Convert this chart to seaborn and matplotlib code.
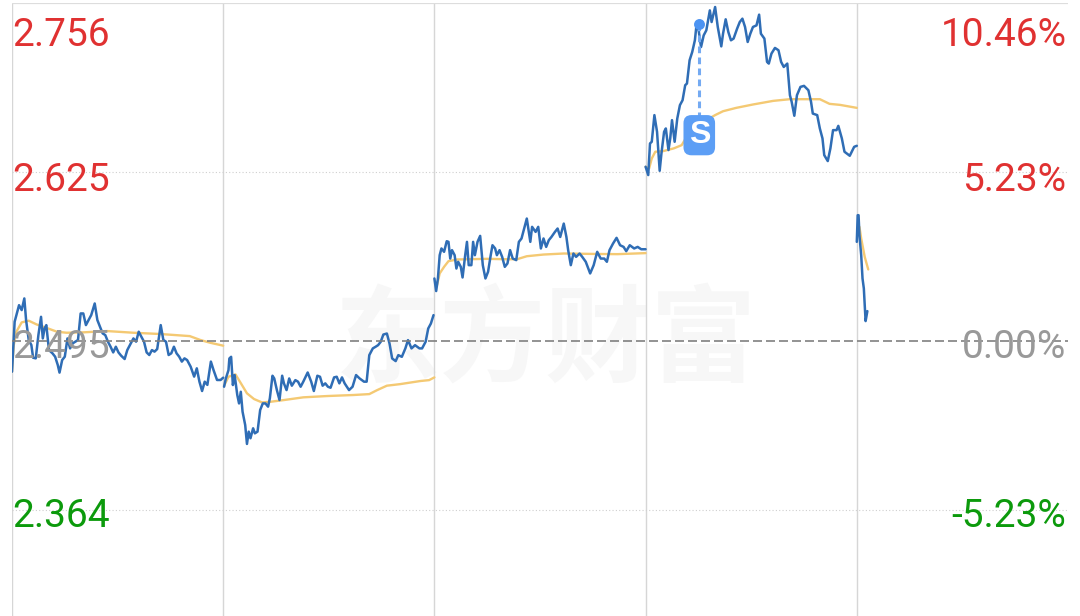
import numpy as np
import pandas as pd
import matplotlib
matplotlib.use("Agg")
import matplotlib.pyplot as plt
import seaborn as sns

BLUE = "#2f6db5"
GOLD = "#f4c973"

minute_day1 = [0, 3, 5, 8, 11, 14, 16, 19, 22, 24, 27, 30, 33, 35, 37, 39, 42, 46, 49, 52, 54, 57, 60, 63, 66, 69,
               72, 75, 78, 81, 84, 87, 90, 94, 97, 100, 103, 106, 109, 112, 115, 118, 121, 124, 128, 131, 135, 138,
               141, 144, 147, 150, 153, 156, 159, 162, 165, 169, 172, 175, 178, 181, 184, 187, 190, 193, 196, 199,
               203, 207, 210, 213, 216, 219, 222, 226, 229, 233, 237, 240]
price_day1 = [2.4709, 2.5095, 2.5146, 2.5223, 2.5185, 2.5275, 2.5108, 2.4954, 2.4915, 2.4817, 2.4812, 2.4992,
              2.5133, 2.4966, 2.5043, 2.5069, 2.4876, 2.4851, 2.4825, 2.4761, 2.4702, 2.4799, 2.4825, 2.4966,
              2.4889, 2.4928, 2.4941, 2.4954, 2.5159, 2.5159, 2.5069, 2.5108, 2.5146, 2.5236, 2.5108, 2.5056,
              2.5005, 2.4992, 2.4941, 2.4902, 2.4858, 2.4902, 2.4858, 2.4833, 2.4807, 2.4876, 2.4928, 2.4966,
              2.4941, 2.5018, 2.4979, 2.4941, 2.4858, 2.4838, 2.4876, 2.4864, 2.4884, 2.5069, 2.4954, 2.4941,
              2.4838, 2.4851, 2.4902, 2.4851, 2.4825, 2.4787, 2.4812, 2.4799, 2.4748, 2.4671, 2.4735, 2.4632,
              2.4560, 2.4632, 2.4607, 2.4787, 2.4722, 2.4645, 2.4645, 2.4663]
minute_day2 = [1, 3, 6, 7, 9, 11, 13, 16, 18, 20, 22, 25, 27, 29, 31, 34, 36, 39, 42, 45, 48, 51, 53, 56, 58, 61,
               64, 67, 69, 72, 75, 78, 82, 85, 88, 91, 96, 100, 103, 107, 110, 113, 116, 119, 122, 126, 129, 132,
               135, 138, 143, 147, 151, 155, 160, 163, 166, 170, 173, 176, 179, 182, 186, 189, 192, 196, 199, 203,
               207, 210, 214, 218, 223, 226, 230, 233, 236, 239]
price_day2 = [2.4593, 2.4657, 2.4721, 2.4811, 2.4824, 2.4606, 2.4683, 2.4529, 2.4464, 2.4554, 2.4400, 2.4297,
              2.4151, 2.4246, 2.4195, 2.4272, 2.4233, 2.4246, 2.4413, 2.4464, 2.4464, 2.4439, 2.4503, 2.4678,
              2.4657, 2.4567, 2.4490, 2.4678, 2.4619, 2.4567, 2.4657, 2.4601, 2.4644, 2.4632, 2.4593, 2.4632,
              2.4703, 2.4632, 2.4560, 2.4678, 2.4670, 2.4601, 2.4619, 2.4593, 2.4585, 2.4665, 2.4670, 2.4619,
              2.4665, 2.4619, 2.4567, 2.4593, 2.4683, 2.4657, 2.4632, 2.4632, 2.4837, 2.4889, 2.4901, 2.4914,
              2.4940, 2.4996, 2.5004, 2.4927, 2.4811, 2.4791, 2.4837, 2.4824, 2.4889, 2.4953, 2.4889, 2.4914,
              2.4889, 2.4889, 2.4940, 2.5043, 2.5081, 2.5146]
minute_day3 = [0, 2, 4, 6, 8, 11, 14, 16, 18, 20, 23, 25, 27, 30, 32, 35, 37, 39, 42, 44, 46, 49, 52, 55, 58, 61,
               64, 66, 69, 71, 74, 77, 80, 83, 86, 89, 93, 96, 99, 102, 105, 107, 109, 111, 115, 118, 121, 124, 127,
               130, 133, 137, 140, 143, 147, 150, 152, 155, 158, 161, 165, 168, 172, 177, 181, 185, 189, 193, 196,
               199, 203, 207, 211, 215, 218, 222, 227, 231, 235, 240]
price_day3 = [2.5429, 2.5332, 2.5429, 2.5609, 2.5661, 2.5635, 2.5717, 2.5712, 2.5583, 2.5648, 2.5609, 2.5506,
              2.5558, 2.5519, 2.5437, 2.5609, 2.5712, 2.5532, 2.5532, 2.5712, 2.5609, 2.5712, 2.5758, 2.5532,
              2.5429, 2.5481, 2.5609, 2.5686, 2.5661, 2.5609, 2.5648, 2.5596, 2.5519, 2.5545, 2.5648, 2.5583,
              2.5571, 2.5712, 2.5738, 2.5815, 2.5892, 2.5802, 2.5712, 2.5828, 2.5789, 2.5828, 2.5661, 2.5738,
              2.5673, 2.5725, 2.5750, 2.5789, 2.5815, 2.5750, 2.5853, 2.5750, 2.5648, 2.5532, 2.5622, 2.5596,
              2.5622, 2.5596, 2.5558, 2.5468, 2.5532, 2.5635, 2.5583, 2.5583, 2.5558, 2.5648, 2.5699, 2.5743,
              2.5686, 2.5673, 2.5640, 2.5686, 2.5661, 2.5673, 2.5655, 2.5655]
minute_day4 = [0, 3, 5, 7, 10, 13, 16, 18, 21, 23, 26, 28, 30, 33, 36, 39, 42, 45, 47, 50, 53, 56, 58, 60, 63, 66,
               69, 73, 75, 79, 82, 86, 88, 91, 94, 97, 100, 104, 107, 110, 113, 116, 119, 122, 126, 129, 131, 135,
               138, 140, 143, 147, 151, 154, 157, 161, 164, 166, 169, 172, 176, 180, 185, 188, 190, 195, 198, 201,
               203, 207, 210, 213, 217, 219, 223, 226, 232, 237, 240]
price_day4 = [2.6292, 2.6228, 2.6472, 2.6485, 2.6691, 2.6562, 2.6261, 2.6395, 2.6562, 2.6588, 2.6421, 2.6511,
              2.6652, 2.6485, 2.6665, 2.6768, 2.6806, 2.6922, 2.6935, 2.7115, 2.7179, 2.7269, 2.7397, 2.7359,
              2.7217, 2.7307, 2.7346, 2.7500, 2.7410, 2.7526, 2.7372, 2.7222, 2.7320, 2.7431, 2.7333, 2.7269,
              2.7282, 2.7359, 2.7410, 2.7436, 2.7372, 2.7256, 2.7320, 2.7372, 2.7384, 2.7467, 2.7320, 2.7282,
              2.7102, 2.7089, 2.7166, 2.7210, 2.7192, 2.7102, 2.7063, 2.7089, 2.6845, 2.6793, 2.6686, 2.6845,
              2.6909, 2.6917, 2.6883, 2.6793, 2.6703, 2.6691, 2.6588, 2.6511, 2.6382, 2.6336, 2.6434, 2.6575,
              2.6575, 2.6608, 2.6511, 2.6408, 2.6377, 2.6446, 2.6454]
minute_day5 = [0, 1, 2, 3, 5, 6.5, 8, 9, 10, 12]
price_day5 = [2.5712, 2.5918, 2.5918, 2.5763, 2.5609, 2.5429, 2.5352, 2.5224, 2.5100, 2.5177]

avg_min1 = [0, 2, 5, 11, 19, 28, 39, 51, 62, 81, 108, 138, 169, 202, 214, 225, 240]
avg_day1 = [2.4709, 2.4915, 2.5018, 2.5090, 2.5103, 2.5074, 2.5048, 2.5018, 2.5010, 2.5013, 2.5023, 2.5010,
            2.5000, 2.4984, 2.4954, 2.4933, 2.4910]
avg_min2 = [1, 6, 14, 19, 27, 35, 44, 54, 69, 91, 118, 148, 166, 175, 186, 201, 224, 234, 240]
avg_day2 = [2.4601, 2.4670, 2.4688, 2.4632, 2.4542, 2.4498, 2.4472, 2.4477, 2.4490, 2.4511, 2.4521, 2.4529,
            2.4536, 2.4567, 2.4601, 2.4613, 2.4637, 2.4644, 2.4665]
avg_min3 = [3, 6, 11, 16, 26, 41, 60, 79, 94, 105, 124, 147, 178, 208, 240]
avg_day3 = [2.5378, 2.5468, 2.5519, 2.5563, 2.5576, 2.5578, 2.5581, 2.5578, 2.5578, 2.5601, 2.5614, 2.5622,
            2.5619, 2.5617, 2.5625]
avg_min4 = [0, 4, 7, 11, 20, 32, 41, 50, 69, 79, 88, 103, 122, 145, 164, 179, 198, 209, 221, 240]
avg_day4 = [2.6292, 2.6279, 2.6356, 2.6408, 2.6413, 2.6434, 2.6459, 2.6562, 2.6652, 2.6691, 2.6721, 2.6747,
            2.6773, 2.6801, 2.6814, 2.6814, 2.6814, 2.6778, 2.6770, 2.6747]
avg_min5 = [3, 5, 9, 13]
avg_day5 = [2.5828, 2.5738, 2.5596, 2.5499]

prev_close = 2.495
grid_prices = [2.625, 2.364]
day_starts = [0, 240, 480, 720, 960]
left_labels = ["2.756", "2.625", "2.495", "2.364"]
right_labels = ["10.46%", "5.23%", "0.00%", "-5.23%"]
label_prices = [2.756, 2.625, 2.495, 2.364]
label_colors = ["#e03131", "#e03131", "#999999", "#0c9a0c"]
signal_minute = 781
signal_price = 2.7397
signal_badge_price = 2.6563


def day_frame(minutes, values, start):
    return pd.DataFrame({"minute": np.asarray(minutes) + start, "price": values})


sns.set_theme(style="white")
plt.rcParams["font.family"] = ["Roboto", "Noto Sans CJK SC", "DejaVu Sans"]

W, H = 1080, 616
fig = plt.figure(figsize=(W / 100, H / 100), dpi=100)
ax = fig.add_axes([12 / W, 0, 1056 / W, 613 / H])
ax.set_xlim(0, 1200)
ax.set_ylim(2.2822, 2.7557)

# watermark
ax.text(0.506, 0.447, "东方财富", transform=ax.transAxes, ha="center", va="center", fontsize=76,
        fontweight="bold", color="#f7f7f7", family=["Noto Sans CJK SC"], zorder=0)

# grid
for x in day_starts:
    ax.axvline(x, color="#d6d6d6", lw=1.0, zorder=1)
for y in grid_prices:
    ax.axhline(y, color="#cfcfcf", lw=0.8, ls=(0, (1, 2)), zorder=1)
ax.axhline(2.7557, color="#dddddd", lw=1.6, zorder=1)

prices = [(minute_day1, price_day1), (minute_day2, price_day2), (minute_day3, price_day3),
          (minute_day4, price_day4), (minute_day5, price_day5)]
for start, (mins, vals) in zip(day_starts, prices):
    sns.lineplot(data=day_frame(mins, vals, start), x="minute", y="price", ax=ax,
                 color=BLUE, lw=1.8, errorbar=None, estimator=None, sort=False, zorder=4)

avgs = [(avg_min1, avg_day1), (avg_min2, avg_day2), (avg_min3, avg_day3), (avg_min4, avg_day4), (avg_min5, avg_day5)]
for start, (mins, vals) in zip(day_starts, avgs):
    sns.lineplot(data=day_frame(mins, vals, start), x="minute", y="price", ax=ax,
                 color=GOLD, lw=1.7, errorbar=None, estimator=None, sort=False, zorder=3)

ax.axhline(prev_close, color="#808080", lw=1.2, ls=(0, (5.4, 2.4)), zorder=5)

# buy/sell marker
ax.plot([signal_minute, signal_minute], [signal_price, signal_badge_price], color="#74aaf2", lw=2.2,
        ls=(0, (2.2, 1.4)), zorder=6)
ax.scatter([signal_minute], [signal_price], s=62, color="#4c93f2", linewidths=0, zorder=7)
ax.text(signal_minute, signal_badge_price, "S", ha="center", va="center_baseline", fontsize=23, fontweight="bold",
        color="white", zorder=8, family=["Liberation Sans"],
        bbox=dict(boxstyle="round,pad=0.16,rounding_size=0.25", fc="#5c9ef5", ec="none"))

# axis labels inside plot
offsets = [-21, -3, -2, -2]
for p, off, left, right, c in zip(label_prices, offsets, left_labels, right_labels, label_colors):
    ax.annotate(left, (0, p), xytext=(0, off), textcoords="offset points", ha="left", va="center_baseline",
                fontsize=28, color=c, zorder=9)
    ax.annotate(right, (1200, p), xytext=(-1, off), textcoords="offset points", ha="right", va="center_baseline",
                fontsize=28, color=c, zorder=9)

ax.set_xlabel("")
ax.set_ylabel("")
ax.set_xticks([])
ax.set_yticks([])
sns.despine(ax=ax, left=True, bottom=True, right=True, top=True)

fig.savefig("out.png", dpi=100)
